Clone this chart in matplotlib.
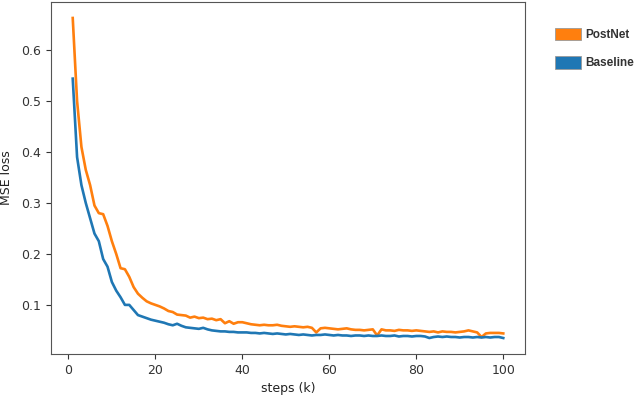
import numpy as np
import matplotlib
matplotlib.use("Agg")
from matplotlib import pyplot as plt
from matplotlib.patches import Patch

# data (steps in k)
steps = np.arange(1, 101)

baseline = [0.544, 0.390, 0.335, 0.300, 0.270, 0.240, 0.225, 0.190, 0.175, 0.145,
            0.128, 0.115, 0.100, 0.100, 0.090, 0.080, 0.077, 0.074, 0.071, 0.069,
            0.067, 0.065, 0.062, 0.060, 0.063, 0.059, 0.056, 0.055, 0.054, 0.053,
            0.055, 0.052, 0.050, 0.049, 0.048, 0.048, 0.047, 0.047, 0.046, 0.046,
            0.046, 0.045, 0.045, 0.044, 0.045, 0.044, 0.043, 0.044, 0.043, 0.042,
            0.043, 0.042, 0.041, 0.042, 0.041, 0.040, 0.041, 0.041, 0.042, 0.041,
            0.040, 0.041, 0.040, 0.040, 0.039, 0.040, 0.040, 0.039, 0.040, 0.039,
            0.039, 0.040, 0.039, 0.039, 0.040, 0.038, 0.039, 0.039, 0.038, 0.039,
            0.039, 0.038, 0.035, 0.037, 0.038, 0.037, 0.038, 0.037, 0.037, 0.036,
            0.037, 0.037, 0.036, 0.037, 0.036, 0.037, 0.036, 0.037, 0.037, 0.035]

postnet = [0.663, 0.500, 0.410, 0.365, 0.335, 0.295, 0.280, 0.278, 0.255, 0.225,
           0.200, 0.172, 0.170, 0.155, 0.135, 0.122, 0.114, 0.107, 0.103, 0.100,
           0.097, 0.093, 0.088, 0.086, 0.081, 0.080, 0.079, 0.075, 0.077, 0.074,
           0.075, 0.072, 0.073, 0.070, 0.072, 0.064, 0.068, 0.063, 0.066, 0.066,
           0.064, 0.062, 0.061, 0.060, 0.061, 0.060, 0.060, 0.061, 0.059, 0.058,
           0.057, 0.058, 0.057, 0.056, 0.057, 0.055, 0.046, 0.054, 0.055, 0.054,
           0.053, 0.052, 0.053, 0.054, 0.052, 0.051, 0.051, 0.050, 0.051, 0.052,
           0.040, 0.052, 0.050, 0.050, 0.049, 0.051, 0.050, 0.050, 0.049, 0.050,
           0.049, 0.048, 0.047, 0.048, 0.046, 0.048, 0.047, 0.047, 0.046, 0.047,
           0.048, 0.050, 0.048, 0.046, 0.037, 0.044, 0.045, 0.045, 0.045, 0.044]

labels = ["PostNet", "Baseline"]
colors = ["#ff7f0e", "#1f77b4"]

fig = plt.figure(figsize=(6.4, 3.96), dpi=100)
ax = fig.add_axes([0.08, 0.106, 0.74, 0.889])

ax.plot(steps, postnet, color=colors[0], lw=1.9)
ax.plot(steps, baseline, color=colors[1], lw=1.9)

ax.set_xticks([0, 20, 40, 60, 80, 100])
ax.set_yticks([0.1, 0.2, 0.3, 0.4, 0.5, 0.6])
ax.tick_params(labelsize=9, colors="#333333")
ax.set_xlabel("steps (k)", fontsize=9, color="#222222", labelpad=4)
ax.set_ylabel("MSE loss", fontsize=9, color="#222222", labelpad=6)
for sp in ax.spines.values():
    sp.set_color("#555555")

handles = [Patch(facecolor=c, edgecolor="#999999", lw=0.6) for c in colors]
fig.legend(handles, labels, loc="upper left", bbox_to_anchor=(0.858, 0.945),
           frameon=False, handlelength=2.2, handleheight=1.25, labelspacing=1.3,
           handletextpad=0.4, borderpad=0,
           prop={"family": "Liberation Sans", "weight": "bold", "size": 8.5},
           labelcolor="#333333")

plt.savefig("out.png", dpi=100)
